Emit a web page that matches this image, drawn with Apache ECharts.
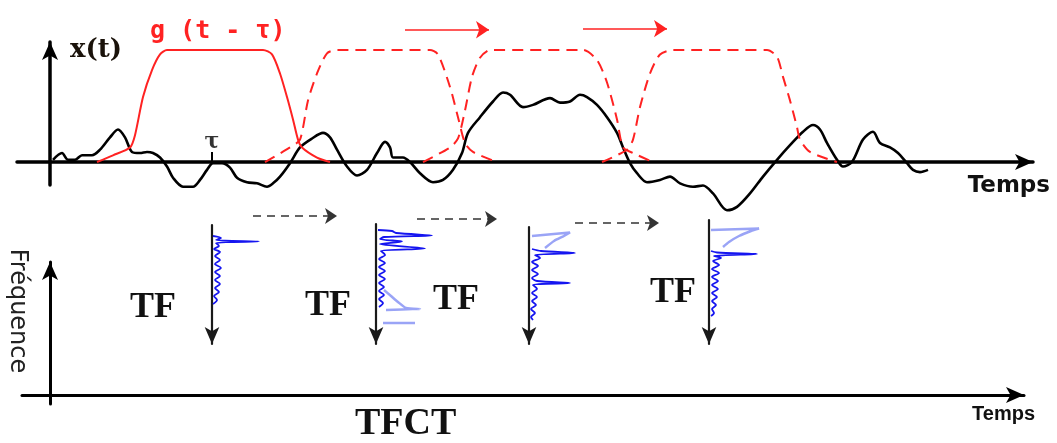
<!DOCTYPE html>
<html>
<head>
<meta charset="utf-8">
<script src="https://cdn.jsdelivr.net/npm/echarts@6/dist/echarts.min.js"></script>
<style>
  html, body { margin: 0; padding: 0; background: #fff; }
  #chart { width: 1057px; height: 443px; }
</style>
</head>
<body>
<div id="chart"></div>
<script>
// ---- x(t): the analysed signal (time, amplitude) ----
const signalT = [0.3, 1.2, 1.8, 2.5, 3.2, 4.2, 5.0, 6.0, 6.8, 7.5, 8.2, 9.0, 9.7, 10.3, 11.0, 11.7, 12.3, 13.3, 14.3, 15.0,
  15.7, 16.3, 17.2, 18.0, 18.7, 19.7, 20.7, 21.7, 22.3, 23.0, 24.0, 25.0, 26.2, 27.3, 28.0, 28.7, 29.7, 30.7, 31.7, 32.7,
  33.5, 34.0, 34.3, 35.3, 36.0, 37.0, 38.3, 39.3, 40.3, 41.2, 41.8, 43.0, 44.3, 45.3, 46.0, 47.3, 48.3, 50.0, 51.0, 52.0,
  53.0, 53.7, 54.7, 55.7, 56.7, 57.3, 58.0, 58.7, 59.7, 61.0, 62.0, 63.0, 64.3, 65.3, 66.3, 67.7, 68.7, 70.0, 71.3, 72.7,
  74.0, 75.3, 76.3, 77.0, 77.7, 78.7, 79.3, 80.2, 81.3, 82.3, 83.0, 84.0, 84.8, 85.7, 86.3, 87.0, 87.8];
const signalA = [0.02, 0.08, 0.02, 0.02, 0.06, 0.06, 0.11, 0.22, 0.29, 0.22, 0.09, 0.08, 0.09, 0.08, 0.04, -0.04, -0.14, -0.22, -0.22, -0.16,
  -0.07, -0.01, -0.01, -0.05, -0.14, -0.18, -0.19, -0.22, -0.19, -0.13, -0.01, 0.13, 0.21, 0.26, 0.22, 0.11, -0.04, -0.12, -0.07, 0.08,
  0.18, 0.13, 0.04, 0.04, 0.0, -0.10, -0.18, -0.16, -0.07, 0.08, 0.26, 0.40, 0.54, 0.62, 0.60, 0.49, 0.51, 0.57, 0.53, 0.54,
  0.60, 0.58, 0.51, 0.40, 0.26, 0.13, -0.01, -0.10, -0.18, -0.16, -0.13, -0.19, -0.22, -0.21, -0.28, -0.43, -0.40, -0.28, -0.13, 0.02,
  0.15, 0.27, 0.33, 0.29, 0.17, 0.02, -0.04, 0.0, 0.20, 0.27, 0.17, 0.13, 0.08, -0.01, -0.07, -0.09, -0.07];

// ---- g(t - tau): analysis window at its first position (solid) ----
const winT0 = [4.7, 6.3, 8.0, 8.5, 9.3, 10.2, 11.0, 11.7, 21.3, 22.2, 23.0, 23.7, 24.3, 24.8, 25.2, 26.7, 28.0];
const winA0 = [0, 0.06, 0.13, 0.24, 0.58, 0.82, 0.96, 1.0, 1.0, 0.96, 0.79, 0.58, 0.38, 0.20, 0.13, 0.04, 0];
// shifted window positions (dashed)
const winT1 = [21.5, 24.0, 25.0, 25.8, 26.7, 27.7, 28.7, 38.0, 38.8, 40.0, 40.8, 41.5, 42.3, 44.7];
const winA1 = [0, 0.13, 0.20, 0.55, 0.79, 0.97, 1.0, 1.0, 0.96, 0.67, 0.40, 0.17, 0.09, 0];
const winT2 = [37.3, 40.0, 40.8, 41.5, 42.2, 43.0, 44.0, 53.3, 54.7, 55.7, 56.7, 57.3, 58.3, 60.3];
const winA2 = [0, 0.13, 0.21, 0.46, 0.76, 0.93, 1.0, 1.0, 0.91, 0.71, 0.38, 0.13, 0.08, 0];
const winT3 = [55.2, 57.7, 58.3, 59.0, 60.0, 61.0, 62.3, 71.7, 72.7, 73.3, 74.0, 74.7, 75.0, 76.0, 78.7];
const winA3 = [0, 0.11, 0.20, 0.49, 0.79, 0.96, 1.0, 1.0, 0.94, 0.76, 0.55, 0.31, 0.20, 0.09, 0];

// window shift arrows (start time, end time, level)
const shiftTop = [[35.5, 43.9, 1.18], [53.3, 61.7, 1.19]];
// tau marker
const tauT = 16.2;
const tauH = 0.09;

// ---- spectra: frequency (downwards) and magnitude ----
const spec1F = [1.1, 1.3, 1.5, 1.65, 1.8, 2.1, 2.4, 2.7, 3.1, 3.5, 3.9, 4.3, 4.7, 5.1, 5.5, 5.9, 6.3, 6.7, 7.1, 7.5, 7.9];
const spec1M = [1, 9, 4, 47, 4, 7, 2, 8, 3, 8, 3, 9, 3, 8, 3, 8, 3, 7, 2, 5, 1];
const spec2F = [0.6, 0.7, 0.9, 1.15, 1.3, 1.5, 1.75, 2.0, 2.45, 2.7, 3.1, 3.5, 3.9, 4.3, 4.7, 5.1, 5.5, 5.9, 6.3, 6.7, 7.1, 7.5, 7.9, 8.3];
const spec2M = [2, 16, 20, 56, 8, 4, 26, 4, 49, 5, 9, 3, 9, 3, 9, 3, 9, 3, 8, 3, 8, 3, 7, 3];
const spec2LightF = [6.6, 7.2, 7.8, 8.4, 8.5, 8.6, null, 9.9, 9.9];
const spec2LightM = [8, 15, 22, 30, 44, 10, null, 7, 39];
const spec3F = [2.2, 2.4, 2.6, 2.8, 3.1, 3.5, 3.9, 4.3, 4.7, 5.1, 5.4, 5.6, 5.8, 6.2, 6.6, 7.0, 7.4, 7.8, 8.2, 8.6, 9.0, 9.3];
const spec3M = [3, 12, 46, 6, 11, 3, 9, 3, 9, 3, 8, 41, 4, 8, 3, 8, 3, 7, 2, 6, 2, 4];
const spec3LightF = [0.9, 0.55, 0.9, 1.4, 2.1];
const spec3LightM = [3, 41, 35, 25, 16];
const spec4F = [3.1, 3.25, 3.4, 3.6, 3.8, 4.1, 4.5, 4.9, 5.3, 5.7, 6.1, 6.5, 6.9, 7.3, 7.7, 8.1, 8.5, 8.9, 9.3, 9.6];
const spec4M = [2, 8, 48, 5, 12, 4, 10, 3, 10, 3, 9, 3, 9, 3, 8, 3, 7, 3, 5, 2];
const spec4LightF = [1.0, 0.85, 1.1, 1.6, 2.2, 2.7];
const spec4LightM = [2, 50, 42, 30, 20, 14];

// shift arrows between successive spectra (start time, end time, level)
const shiftBottom = [[20.3, 28.7, 17.9], [36.7, 44.7, 17.6], [52.5, 60.9, 17.2]];

const zip = (a, b) => a.map((v, i) => (v == null ? '-' : [v, b[i]]));
const zipSpec = (f, m) => f.map((v, i) => (v == null ? '-' : [m[i], v]));

const RED = '#f22';
const BLUE = '#1515f0';
const LIGHT = '#9aa4f6';

// spectrum panels: [left, top, height]
const specBoxes = [[212, 225, 119], [376, 224, 120], [529, 227, 117], [709, 220, 124]];

function hiddenX(gi, max) {
  return { gridIndex: gi, type: 'value', min: 0, max: max, show: false };
}
function arrowAxis(gi, min, max, width) {
  return {
    gridIndex: gi, type: 'value', min: min, max: max,
    axisLine: { onZero: true, symbol: ['none', 'arrow'], symbolSize: [12, 18], lineStyle: { color: '#000', width: width } },
    axisTick: { show: false }, axisLabel: { show: false }, splitLine: { show: false }
  };
}

const grids = [
  { left: 17, top: 42, width: 1016, height: 143, outerBoundsMode: 'none' },
  { left: 22, top: 262, width: 1002, height: 142, outerBoundsMode: 'none' }
];
specBoxes.forEach(b => grids.push({ left: b[0], top: b[1], width: 60, height: b[2], outerBoundsMode: 'none' }));

const xAxes = [arrowAxis(0, -3.3, 98.3, 3.5), arrowAxis(1, -2.8, 97.4, 3)];
const yAxes = [arrowAxis(0, -0.205, 1.071, 3.5), arrowAxis(1, -0.9, 13.3, 3)];
specBoxes.forEach((b, i) => {
  xAxes.push(hiddenX(i + 2, 60));
  // frequency axis of each spectrum, pointing downwards
  yAxes.push({
    gridIndex: i + 2, type: 'value', inverse: true, min: 0, max: b[2] / 10,
    axisLine: { onZero: false, symbol: ['arrow', 'none'], symbolSize: [11, 17], lineStyle: { color: '#1a1a1a', width: 2.2 } },
    axisTick: { show: false }, axisLabel: { show: false }, splitLine: { show: false }
  });
});

const series = [
  {
    type: 'line', xAxisIndex: 0, yAxisIndex: 0, data: zip(signalT, signalA), smooth: 0.3, clip: false,
    showSymbol: false, lineStyle: { color: '#000', width: 2.6 }, z: 3
  },
  {
    type: 'line', xAxisIndex: 0, yAxisIndex: 0, data: zip(winT0, winA0), smooth: 0.25, clip: false,
    showSymbol: false, lineStyle: { color: RED, width: 2 }, z: 4
  }
];
[[winT1, winA1], [winT2, winA2], [winT3, winA3]].forEach(w => series.push({
  type: 'line', xAxisIndex: 0, yAxisIndex: 0, data: zip(w[0], w[1]), smooth: 0.25, clip: false,
  showSymbol: false, lineStyle: { color: RED, width: 2, type: [11, 7] }, z: 4
}));
series.push({
  type: 'lines', coordinateSystem: 'cartesian2d', xAxisIndex: 0, yAxisIndex: 0, clip: false, silent: true,
  symbol: ['none', 'arrow'], symbolSize: 13,
  lineStyle: { color: RED, width: 1.6, opacity: 1, curveness: 0 },
  data: shiftTop.map(s => ({ coords: [[s[0], s[2]], [s[1], s[2]]] }))
});
series.push({
  type: 'lines', coordinateSystem: 'cartesian2d', xAxisIndex: 0, yAxisIndex: 0, clip: false, silent: true,
  symbol: 'none', lineStyle: { color: '#000', width: 2, opacity: 1 },
  data: [{ coords: [[tauT, 0], [tauT, tauH]] }]
});
series.push({
  type: 'scatter', xAxisIndex: 0, yAxisIndex: 0, data: [[tauT, tauH]], symbolSize: 0, silent: true,
  label: { show: true, position: 'top', distance: -1, formatter: 'τ', color: '#000', fontSize: 22, fontWeight: 'bold', fontFamily: 'DejaVu Serif' }
});
series.push({
  type: 'lines', coordinateSystem: 'cartesian2d', xAxisIndex: 1, yAxisIndex: 1, clip: false, silent: true,
  symbol: ['none', 'arrow'], symbolSize: 12,
  lineStyle: { color: '#333', width: 1.6, opacity: 1, type: [8, 6] },
  data: shiftBottom.map(s => ({ coords: [[s[0], s[2]], [s[1], s[2]]] }))
});

const spectra = [
  [spec1F, spec1M, null, null],
  [spec2F, spec2M, spec2LightF, spec2LightM],
  [spec3F, spec3M, spec3LightF, spec3LightM],
  [spec4F, spec4M, spec4LightF, spec4LightM]
];
spectra.forEach((s, i) => {
  if (s[2]) {
    series.push({
      type: 'line', xAxisIndex: i + 2, yAxisIndex: i + 2, data: zipSpec(s[2], s[3]), smooth: 0.2,
      showSymbol: false, lineStyle: { color: LIGHT, width: 2.5 }, z: 2
    });
  }
  series.push({
    type: 'line', xAxisIndex: i + 2, yAxisIndex: i + 2, data: zipSpec(s[0], s[1]), smooth: 0.3,
    showSymbol: false, lineStyle: { color: BLUE, width: 1.8 }, z: 3
  });
});

function txt(x, y, text, font, opts) {
  return Object.assign({
    type: 'text', x: x, y: y, silent: true,
    style: Object.assign({ text: text, font: font, fill: '#111', align: 'left', verticalAlign: 'middle' }, (opts && opts.style) || {})
  }, (opts && opts.el) || {});
}

const graphics = [
  txt(70, 50, 'x(t)', 'bold 26px "DejaVu Serif"', { style: { fill: '#1a120a' } }),
  txt(150, 31, 'g (t - τ)', 'bold 25px "DejaVu Sans Mono"', { style: { fill: RED } }),
  txt(1050, 186, 'Temps', 'bold 23px "DejaVu Sans"', { style: { align: 'right' } }),
  txt(1035, 414, 'Temps', 'bold 20px "Liberation Sans"', { style: { align: 'right' } }),
  txt(17, 311, 'Fréquence', '24px "DejaVu Sans"', { style: { align: 'center', fill: '#222' }, el: { rotation: -Math.PI / 2 } }),
  txt(130, 308, 'TF', 'bold 36px "Liberation Serif"'),
  txt(305, 306, 'TF', 'bold 36px "Liberation Serif"'),
  txt(433, 300, 'TF', 'bold 36px "Liberation Serif"'),
  txt(650, 293, 'TF', 'bold 36px "Liberation Serif"'),
  txt(355, 424, 'TFCT', 'bold 38px "Liberation Serif"')
];

const chart = echarts.init(document.getElementById('chart'), null, { renderer: 'canvas' });
chart.setOption({
  animation: false,
  backgroundColor: '#fff',
  grid: grids,
  xAxis: xAxes,
  yAxis: yAxes,
  series: series,
  graphic: graphics
});
</script>
</body>
</html>
